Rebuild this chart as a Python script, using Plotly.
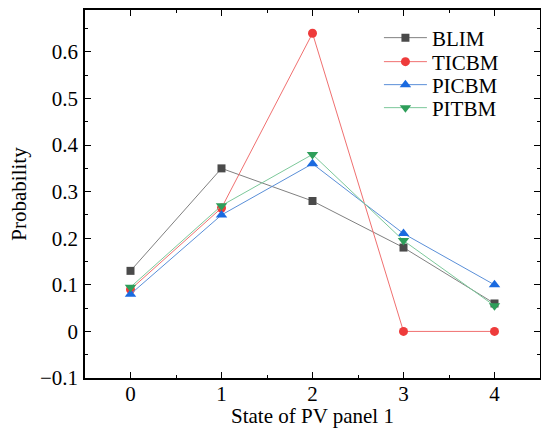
import plotly.graph_objects as go

states = [0, 1, 2, 3, 4]
blim = [0.13, 0.35, 0.28, 0.18, 0.06]
ticbm = [0.09, 0.265, 0.64, 0.0, 0.0]
picbm = [0.08, 0.25, 0.36, 0.21, 0.10]
pitbm = [0.095, 0.27, 0.38, 0.195, 0.055]

series = [
    ("BLIM", blim, "#808080", "#4a4a4a", "square", 8),
    ("TICBM", ticbm, "#f07070", "#ee3b3b", "circle", 9),
    ("PICBM", picbm, "#5a8fd8", "#1a6ae0", "triangle-up", 10),
    ("PITBM", pitbm, "#7cc89a", "#2e9e5a", "triangle-down", 10),
]
legend_ids = ["legend", "legend2", "legend3", "legend4"]
legend_rows_px = [38, 62, 85, 108]

font = "Liberation Serif, Times New Roman, serif"
W, H = 541, 428
ML, MR, MT, MB = 85, 1, 10, 50
plot_h = H - MT - MB

fig = go.Figure()
for (name, vals, lc, mc, sym, sz), lid in zip(series, legend_ids):
    fig.add_trace(go.Scatter(
        x=states, y=vals, name=name, mode="lines+markers",
        line=dict(color=lc, width=1),
        marker=dict(color=mc, symbol=sym, size=sz, line=dict(width=0)),
        legend=lid,
    ))

layout_legends = {}
for lid, py in zip(legend_ids, legend_rows_px):
    layout_legends[lid] = dict(
        x=0.646, y=(H - MB - py) / plot_h, xanchor="left", yanchor="middle",
        font=dict(family=font, size=21, color="black"),
        bgcolor="rgba(0,0,0,0)", itemwidth=43,
    )

fig.update_layout(
    width=W, height=H,
    margin=dict(l=ML, r=MR, t=MT, b=MB),
    paper_bgcolor="white", plot_bgcolor="white",
    font=dict(family=font, size=21, color="black"),
    showlegend=True,
    **layout_legends,
)
fig.update_xaxes(
    range=[-0.5, 4.5], tickmode="array", tickvals=states,
    ticktext=[str(s) for s in states],
    ticks="inside", ticklen=6, tickwidth=1, tickcolor="black",
    minor=dict(ticks="inside", dtick=0.5, ticklen=3, tickcolor="black"),
    showline=True, linecolor="black", linewidth=1.5, mirror="ticks",
    showgrid=False, zeroline=False, automargin=False, ticklabelstandoff=-4,
    title=dict(text="State of PV panel 1", font=dict(family=font, size=21), standoff=14),
    tickfont=dict(family=font, size=21),
)
fig.update_yaxes(
    range=[-0.1, 0.69], tickmode="array",
    tickvals=[-0.1, 0, 0.1, 0.2, 0.3, 0.4, 0.5, 0.6],
    ticktext=["\u22120.1", "0", "0.1", "0.2", "0.3", "0.4", "0.5", "0.6"],
    ticks="inside", ticklen=6, tickwidth=1, tickcolor="black",
    minor=dict(ticks="inside", dtick=0.05, tick0=0, ticklen=3, tickcolor="black"),
    showline=True, linecolor="black", linewidth=1.5, mirror="ticks",
    showgrid=False, zeroline=False, ticklabelstandoff=1, automargin=False,
    title=dict(text="Probability", font=dict(family=font, size=21), standoff=8),
    tickfont=dict(family=font, size=21),
)
fig.write_html("out.html")
